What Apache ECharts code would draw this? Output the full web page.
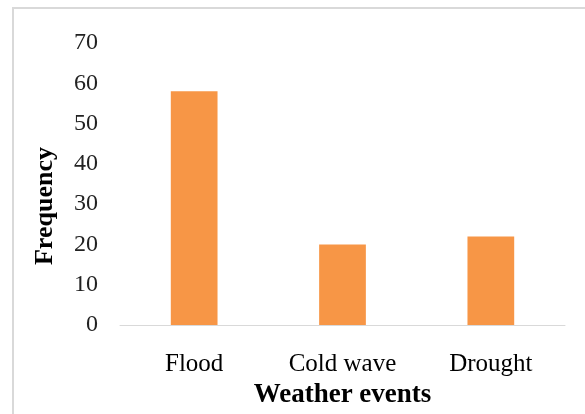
<!DOCTYPE html>
<html>
<head>
<meta charset="utf-8">
<style>
  html, body { margin: 0; padding: 0; background: #ffffff; overflow: hidden; }
  #chart { width: 100vw; height: 100vh; }
</style>
<script src="https://cdn.jsdelivr.net/npm/echarts@6/dist/echarts.min.js"></script>
</head>
<body>
<div id="chart"></div>
<script>
// Frequency of weather events
const categories = ['Flood', 'Cold wave', 'Drought'];
const frequency = [58, 20, 22];
const yTicks = { min: 0, max: 70, interval: 10 };

const serif = '"Liberation Serif", "Times New Roman", serif';

const chart = echarts.init(document.getElementById('chart'), null, { renderer: 'canvas' });

chart.setOption({
  animation: false,
  backgroundColor: '#ffffff',
  graphic: [{
    type: 'rect',
    shape: { x: 13, y: 8, width: 620, height: 460 },
    style: { fill: 'none', stroke: '#d9d9d9', lineWidth: 2 },
    silent: true
  }],
  grid: { left: 120, right: 20, top: 43, bottom: 83, containLabel: false },
  xAxis: {
    type: 'category',
    data: categories,
    name: 'Weather events',
    nameLocation: 'middle',
    nameGap: 55,
    nameTextStyle: { fontFamily: serif, fontSize: 27, fontWeight: 'bold', color: '#000000' },
    axisLine: { show: true, lineStyle: { color: '#d9d9d9', width: 1 } },
    axisTick: { show: false },
    axisLabel: { fontFamily: serif, fontSize: 25, color: '#000000', margin: 27 },
    splitLine: { show: false }
  },
  yAxis: {
    type: 'value',
    min: yTicks.min,
    max: yTicks.max,
    interval: yTicks.interval,
    name: 'Frequency',
    nameLocation: 'middle',
    nameGap: 62,
    nameTextStyle: {
      fontFamily: serif, fontSize: 26, fontWeight: 'bold', color: '#000000',
      padding: [0, 44, 0, 0]
    },
    axisLine: { show: false },
    axisTick: { show: false },
    axisLabel: { fontFamily: serif, fontSize: 24, color: '#222222', margin: 22 },
    splitLine: { show: false }
  },
  series: [{
    type: 'bar',
    data: frequency,
    barCategoryGap: '68.5%',
    itemStyle: { color: '#f79646' }
  }]
});
</script>
</body>
</html>
